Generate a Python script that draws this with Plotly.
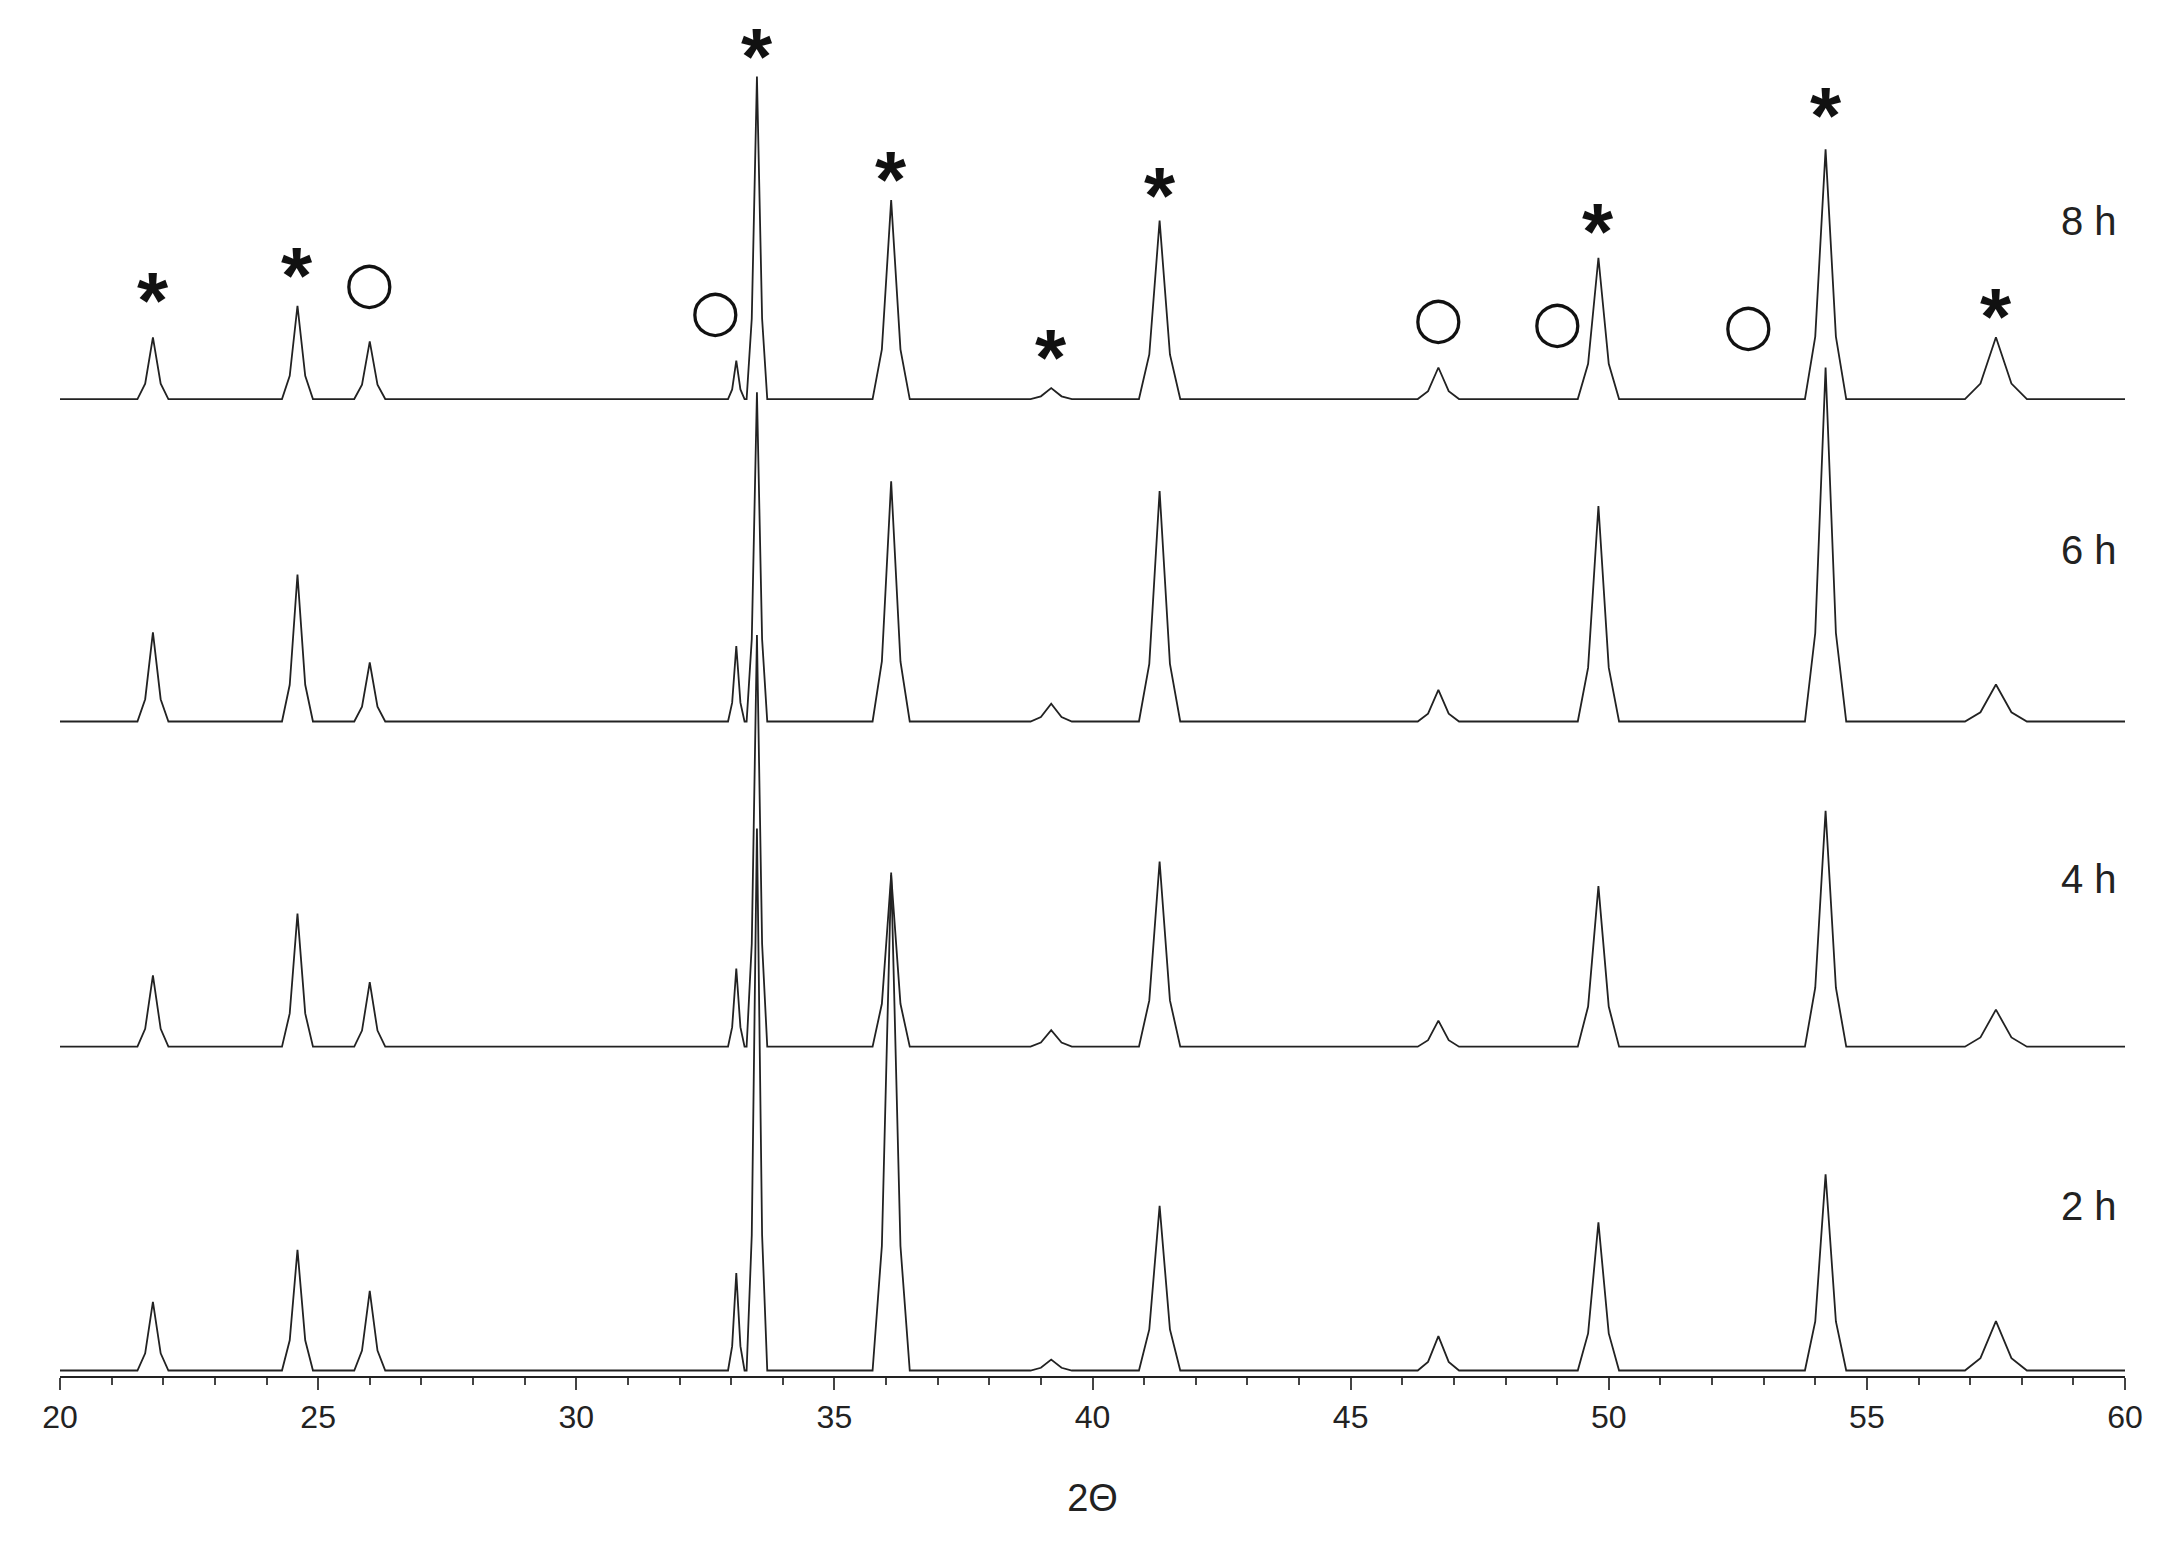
import plotly.graph_objects as go

peak_pos = [21.8, 24.6, 26.0, 33.1, 33.5, 36.1, 39.2, 41.3, 46.7, 49.8, 54.2, 57.5]
peak_w   = [0.15, 0.15, 0.15, 0.08, 0.1, 0.18, 0.2, 0.2, 0.2, 0.2, 0.2, 0.3]
h_2h = [50, 88, 58, 71, 395, 363, 8, 120, 25, 108, 143, 36]
h_4h = [52, 97, 47, 57, 300, 125, 12, 135, 19, 117, 172, 27]
h_6h = [65, 107, 43, 55, 240, 175, 13, 168, 23, 157, 258, 27]
h_8h = [45, 68, 42, 28, 235, 145, 8, 130, 23, 103, 182, 45]
offsets = [0, 236, 473, 708]
labels = ["2 h", "4 h", "6 h", "8 h"]
label_y = [120, 358, 598, 838]
star_x = [21.8, 24.6, 33.5, 36.1, 39.2, 41.3, 49.8, 54.2, 57.5]
star_y = [780, 798, 958, 868, 738, 856, 830, 915, 768]
circ_x = [26.0, 32.7, 46.7, 49.0, 52.7]
circ_y = [793, 773, 768, 765, 763]

fig = go.Figure()
for heights, off in zip([h_2h, h_4h, h_6h, h_8h], offsets):
    xs, ys = [20.0], [off]
    for p, w, h in zip(peak_pos, peak_w, heights):
        xs += [p - w * 2, p - w, p, p + w, p + w * 2]
        ys += [off, off + h * 0.25, off + h, off + h * 0.25, off]
    xs.append(60.0); ys.append(off)
    fig.add_trace(go.Scatter(x=xs, y=ys, mode="lines",
                             line=dict(color="#222", width=1.8), showlegend=False))

for t, y in zip(labels, label_y):
    fig.add_annotation(x=59.3, y=y, text=t, showarrow=False, font=dict(size=40, color="#222"))
for x, y in zip(star_x, star_y):
    fig.add_annotation(x=x, y=y, text="<b>*</b>", showarrow=False,
                       font=dict(size=80, color="#111", family="Liberation Sans"))
for x, y in zip(circ_x, circ_y):
    fig.add_annotation(x=x, y=y, text="○", showarrow=False,
                       font=dict(size=58, color="#111", family="DejaVu Sans"))

fig.update_layout(
    width=2159, height=1568, plot_bgcolor="white", paper_bgcolor="white",
    margin=dict(l=52, r=42, t=0, b=200),
    font=dict(family="Liberation Sans", color="#222"),
    xaxis=dict(range=[20, 60], tickvals=list(range(20, 61, 5)), ticks="outside", ticklen=12,
               tickwidth=2, showline=True, linecolor="#222", linewidth=2, showgrid=False,
               zeroline=False, tickfont=dict(size=32),
               minor=dict(tickvals=list(range(20, 61)), ticks="outside", ticklen=7, tickwidth=1.5),
               title=dict(text="2Θ", font=dict(size=38), standoff=50)),
    yaxis=dict(range=[-4, 993], visible=False),
)
fig.write_html("out.html")
